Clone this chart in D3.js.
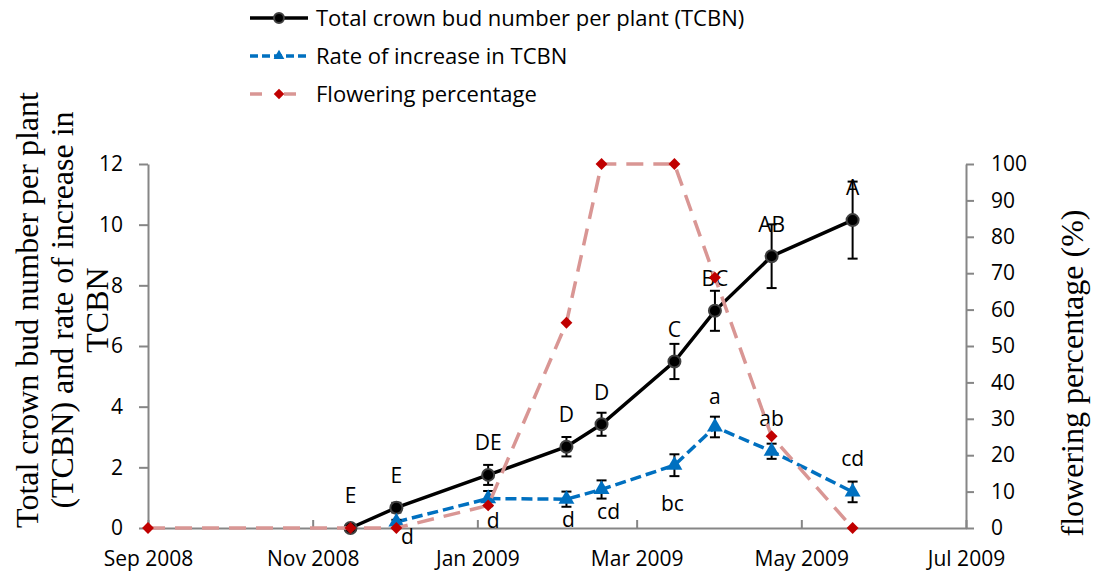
<!DOCTYPE html>
<html>
<head>
<meta charset="utf-8">
<script src="https://cdn.jsdelivr.net/npm/d3@7"></script>
<style>
  body { margin: 0; background: #fff; }
  svg { display: block; }
  .tick text { font-family: "Open Sans", sans-serif; font-size: 21px; fill: #000; }
  .axis path, .axis line { stroke: #868686; stroke-width: 2; }
</style>
</head>
<body>
<div id="chart"></div>
<script>
// sampling dates
const dates = ["2008-09-01", "2008-11-15", "2008-12-02", "2009-01-05", "2009-02-03", "2009-02-16", "2009-03-15", "2009-03-30", "2009-04-20", "2009-05-20"];
// total crown bud number per plant (null = not measured)
const tcbn = [null, 0, 0.67, 1.75, 2.68, 3.42, 5.49, 7.16, 8.96, 10.15];
const tcbnErr = [null, 0, 0.16, 0.33, 0.32, 0.38, 0.58, 0.66, 1.05, 1.27];
const tcbnLetters = ["", "E", "E", "DE", "D", "D", "C", "BC", "AB", "A"];
// rate of increase in TCBN
const rate = [null, null, 0.2, 0.97, 0.95, 1.27, 2.07, 3.33, 2.53, 1.19];
const rateErr = [null, null, 0.07, 0.25, 0.25, 0.3, 0.36, 0.34, 0.25, 0.34];
const rateLetters = ["", "", "d", "d", "d", "cd", "bc", "a", "ab", "cd"];
// label placement for rate letters: [dx, dy] from the point
const rateLabelShift = [null, null, [11, 15], [5, 22], [2, 20], [7, 22], [-2, 38], [0, -30], [0, -33], [0, -33]];
// flowering percentage
const flowering = [0, 0, 0, 6.2, 56.4, 100, 100, 68.8, 25.2, 0];

const leftTicks = [0, 2, 4, 6, 8, 10, 12];
const rightTicks = [0, 10, 20, 30, 40, 50, 60, 70, 80, 90, 100];

const W = 1095, H = 574;
const plot = {left: 148, right: 966, top: 164, bottom: 528};

const parse = d3.timeParse("%Y-%m-%d");
const rows = dates.map((d, i) => ({
    date: parse(d), tcbn: tcbn[i], tcbnErr: tcbnErr[i], tl: tcbnLetters[i],
    rate: rate[i], rateErr: rateErr[i], rl: rateLetters[i], rs: rateLabelShift[i],
    flow: flowering[i]
}));

const svg = d3.select("#chart").append("svg")
    .attr("width", W).attr("height", H);

const x = d3.scaleTime()
    .domain([parse("2008-09-01"), parse("2009-07-01")])
    .range([plot.left, plot.right]);
const y = d3.scaleLinear().domain([0, 12]).range([plot.bottom, plot.top]);
const y2 = d3.scaleLinear().domain([0, 100]).range([plot.bottom, plot.top]);

// axes
svg.append("g").attr("class", "axis")
    .attr("transform", `translate(${plot.left},0)`)
    .call(d3.axisLeft(y).tickValues(leftTicks).tickSizeInner(9).tickSizeOuter(0).tickPadding(16));
svg.append("g").attr("class", "axis")
    .attr("transform", `translate(${plot.right},0)`)
    .call(d3.axisRight(y2).tickValues(rightTicks).tickSizeInner(8).tickSizeOuter(0).tickPadding(17));
svg.append("g").attr("class", "axis")
    .attr("transform", `translate(0,${plot.bottom})`)
    .call(d3.axisBottom(x).ticks(d3.timeMonth.every(2)).tickFormat(d3.timeFormat("%b %Y"))
        .tickSizeInner(-8).tickSizeOuter(0).tickPadding(23));

// axis titles
const leftTitle = ["Total crown bud number per plant", "(TCBN) and rate of increase in", "TCBN"];
svg.append("text")
    .attr("transform", "translate(0,310) rotate(-90)")
    .style("font-family", "'Liberation Serif', 'Times New Roman', serif")
    .style("font-size", "32px")
    .attr("text-anchor", "middle")
    .selectAll("tspan").data(leftTitle).join("tspan")
    .attr("x", 0).attr("y", (d, i) => 38 + i * 35)
    .text(d => d);
svg.append("text")
    .attr("transform", "translate(1083,373) rotate(-90)")
    .style("font-family", "'Liberation Serif', 'Times New Roman', serif")
    .style("font-size", "32px")
    .attr("text-anchor", "middle")
    .text("flowering percentage (%)");

const labelFont = "'Open Sans', sans-serif";
const blue = "#0070C0", pink = "#D99694", red = "#C00000";

// TCBN line
const tRows = rows.filter(d => d.tcbn !== null);
svg.append("path").datum(tRows)
    .attr("fill", "none").attr("stroke", "#000").attr("stroke-width", 3.5)
    .attr("d", d3.line().x(d => x(d.date)).y(d => y(d.tcbn)));
// rate line
const rRows = rows.filter(d => d.rate !== null);
svg.append("path").datum(rRows)
    .attr("fill", "none").attr("stroke", blue).attr("stroke-width", 3.5)
    .attr("stroke-dasharray", "11,5")
    .attr("d", d3.line().x(d => x(d.date)).y(d => y(d.rate)));

// error bars
function errorBars(data, val, err) {
    const g = svg.append("g").attr("stroke", "#000").attr("stroke-width", 2);
    data.filter(d => d[err] > 0).forEach(d => {
        const cx = x(d.date), lo = y(d[val] - d[err]), hi = y(d[val] + d[err]);
        g.append("line").attr("x1", cx).attr("x2", cx).attr("y1", lo).attr("y2", hi);
        g.append("line").attr("x1", cx - 5).attr("x2", cx + 5).attr("y1", lo).attr("y2", lo);
        g.append("line").attr("x1", cx - 5).attr("x2", cx + 5).attr("y1", hi).attr("y2", hi);
    });
}
errorBars(tRows, "tcbn", "tcbnErr");
errorBars(rRows, "rate", "rateErr");

// markers
svg.selectAll(".tm").data(tRows).join("circle")
    .attr("cx", d => x(d.date)).attr("cy", d => y(d.tcbn)).attr("r", 6)
    .attr("fill", "#000").attr("stroke", "#404040").attr("stroke-width", 2);
const tri = d3.symbol().type(d3.symbolTriangle).size(110);
svg.selectAll(".rm").data(rRows).join("path")
    .attr("transform", d => `translate(${x(d.date)},${y(d.rate)})`)
    .attr("d", tri).attr("fill", blue);

// letters
svg.selectAll(".tl").data(tRows).join("text")
    .attr("x", d => x(d.date)).attr("y", d => y(d.tcbn) - 32)
    .attr("dy", "0.35em").attr("text-anchor", "middle")
    .style("font-family", labelFont).style("font-size", "21px")
    .text(d => d.tl);
svg.selectAll(".rl").data(rRows).join("text")
    .attr("x", d => x(d.date) + d.rs[0]).attr("y", d => y(d.rate) + d.rs[1])
    .attr("dy", "0.35em").attr("text-anchor", "middle")
    .style("font-family", labelFont).style("font-size", "21px")
    .text(d => d.rl);

// flowering percentage (secondary axis, drawn on top)
svg.append("path").datum(rows)
    .attr("fill", "none").attr("stroke", pink).attr("stroke-width", 3.5)
    .attr("stroke-dasharray", "17,10")
    .attr("d", d3.line().x(d => x(d.date)).y(d => y2(d.flow)));
const diamond = d3.symbol().type(d3.symbolDiamond2).size(90);
svg.selectAll(".fm").data(rows).join("path")
    .attr("transform", d => `translate(${x(d.date)},${y2(d.flow)})`)
    .attr("d", diamond).attr("fill", red);

// legend
const legend = [
    {name: "Total crown bud number per plant (TCBN)", color: "#000", dash: null, marker: "circle"},
    {name: "Rate of increase in TCBN", color: blue, dash: "8,4", marker: "tri"},
    {name: "Flowering percentage", color: pink, dash: "12,22", marker: "diamond"}
];
const lg = svg.selectAll(".lg").data(legend).join("g")
    .attr("transform", (d, i) => `translate(250,${18 + i * 38})`);
lg.append("line").attr("x1", 0).attr("x2", 58)
    .attr("stroke", d => d.color).attr("stroke-width", 3.5)
    .attr("stroke-dasharray", d => d.dash);
lg.each(function(d) {
    const g = d3.select(this);
    if (d.marker === "circle")
        g.append("circle").attr("cx", 29).attr("r", 5).attr("fill", "#000").attr("stroke", "#404040").attr("stroke-width", 2);
    else if (d.marker === "tri")
        g.append("path").attr("transform", "translate(29,0)").attr("d", d3.symbol().type(d3.symbolTriangle).size(50)).attr("fill", blue);
    else
        g.append("path").attr("transform", "translate(29,0)").attr("d", d3.symbol().type(d3.symbolDiamond2).size(70)).attr("fill", red);
});
lg.append("text").attr("x", 66).attr("dy", "0.35em")
    .style("font-family", labelFont).style("font-size", "22px")
    .text(d => d.name);
</script>
</body>
</html>
